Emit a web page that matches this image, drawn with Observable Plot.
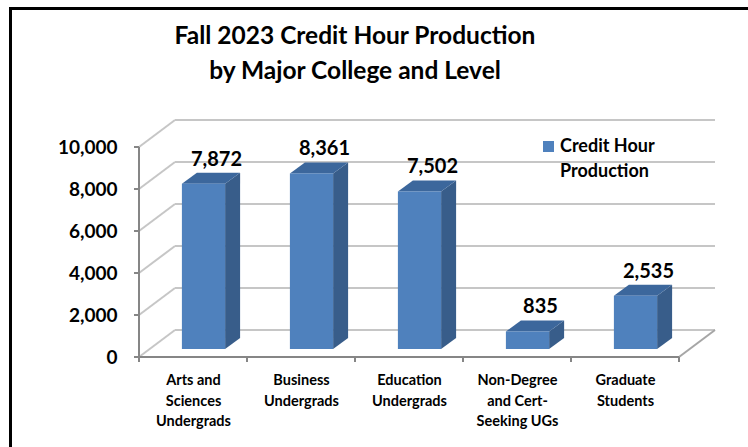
<!DOCTYPE html>
<html>
<head>
<meta charset="utf-8">
<script src="https://cdn.jsdelivr.net/npm/d3@7"></script>
<script src="https://cdn.jsdelivr.net/npm/@observablehq/plot@0.6"></script>
<style>
  html, body { margin: 0; padding: 0; background: #fff; }
  body { width: 748px; height: 447px; position: relative; overflow: hidden; font-family: Lato, "Open Sans", sans-serif; }
  #frame { position: absolute; left: 9px; top: 7px; width: 800px; height: 500px; border-left: 3px solid #000; border-top: 3px solid #000; box-sizing: border-box; }
  #chart { position: absolute; left: 0; top: 0; }
  #title { position: absolute; left: 155px; top: 16.5px; width: 400px; text-align: center; font-weight: bold; font-size: 24.5px; line-height: 35px; color: #000; }
  #legend { position: absolute; left: 543px; top: 133px; font-weight: bold; font-size: 18px; line-height: 25px; color: #000; }
  #legend .sw { position: absolute; left: 0; top: 8px; width: 11px; height: 11px; background: #4f81bd; }
  #legend .tx { position: absolute; left: 17px; top: 0; white-space: nowrap; }
</style>
</head>
<body>
<div id="frame"></div>
<div id="chart"></div>
<div id="title">Fall 2023 Credit Hour Production<br>by Major College and Level</div>
<div id="legend"><div class="sw"></div><div class="tx">Credit Hour<br>Production</div></div>
<script>
const categories = ["Arts and\nSciences\nUndergrads", "Business\nUndergrads", "Education\nUndergrads", "Non-Degree\nand Cert-\nSeeking UGs", "Graduate\nStudents"];
const values = [7872, 8361, 7502, 835, 2535];
const yTicks = [0, 2000, 4000, 6000, 8000, 10000];
const seriesName = "Credit Hour Production";

const data = categories.map((c, i) => ({i, c, v: values[i]}));

const FRONT = "#4f81bd", SIDE = "#385d8a", TOP = "#3c679c";
const GRID = "#c6c6c6", AXIS = "#868686";
const DX = 36, DY = -27;          // depth of the plot box (pixels)
const BDX = 10.5, BDY = -8;       // bar front plane offset
const SDX = 15, SDY = -11;        // bar depth

function walls(index, {x, y}) {
  const g = d3.create("svg:g");
  const xl = x(-0.5), xr = x(categories.length - 0.5);
  for (const t of yTicks) {
    g.append("line").attr("x1", xl + DX).attr("x2", xr + DX).attr("y1", y(t) + DY).attr("y2", y(t) + DY)
      .attr("stroke", GRID).attr("stroke-width", 2);
    g.append("line").attr("x1", xl).attr("x2", xl + DX).attr("y1", y(t)).attr("y2", y(t) + DY)
      .attr("stroke", GRID).attr("stroke-width", 2);
  }
  g.append("line").attr("x1", xr).attr("x2", xr + DX).attr("y1", y(0)).attr("y2", y(0) + DY)
    .attr("stroke", "#a6a6a6").attr("stroke-width", 2);
  g.append("line").attr("x1", xl).attr("x2", xl).attr("y1", y(0)).attr("y2", y(10000))
    .attr("stroke", AXIS).attr("stroke-width", 2);
  g.append("line").attr("x1", xl).attr("x2", xr).attr("y1", y(0)).attr("y2", y(0))
    .attr("stroke", AXIS).attr("stroke-width", 2);
  for (const t of yTicks) {
    g.append("line").attr("x1", xl - 5).attr("x2", xl).attr("y1", y(t)).attr("y2", y(t))
      .attr("stroke", AXIS).attr("stroke-width", 2);
  }
  for (let k = 0; k <= categories.length; k++) {
    const px = x(k - 0.5);
    g.append("line").attr("x1", px).attr("x2", px).attr("y1", y(0)).attr("y2", y(0) + 5)
      .attr("stroke", AXIS).attr("stroke-width", 2);
  }
  return g.node();
}

function barDepth(index, {x, y}) {
  const g = d3.create("svg:g");
  for (const d of data) {
    const x0 = x(d.i - 0.2) + BDX, x1 = x(d.i + 0.2) + BDX;
    const yt = y(d.v) + BDY, yb = y(0) + BDY;
    g.append("polygon")
      .attr("points", [[x1, yt], [x1 + SDX, yt + SDY], [x1 + SDX, yb + SDY], [x1, yb]].join(" "))
      .attr("fill", SIDE);
    g.append("polygon")
      .attr("points", [[x0, yt], [x0 + SDX, yt + SDY], [x1 + SDX, yt + SDY], [x1, yt]].join(" "))
      .attr("fill", TOP);
  }
  return g.node();
}

const plot = Plot.plot({
  width: 748,
  height: 447,
  marginTop: 147,
  marginBottom: 90,
  marginLeft: 139,
  marginRight: 69,
  style: {fontFamily: "Lato, 'Open Sans', sans-serif", background: "transparent", overflow: "visible"},
  x: {type: "linear", domain: [-0.5, categories.length - 0.5], axis: null},
  y: {type: "linear", domain: [0, 10000], axis: null},
  marks: [
    walls,
    barDepth,
    Plot.rectY(data, {x1: d => d.i - 0.2, x2: d => d.i + 0.2, y: "v", dx: BDX, dy: BDY, fill: FRONT, title: d => `${seriesName}: ${d.v}`}),
    Plot.text(yTicks, {y: d => d, frameAnchor: "left", dx: -22, textAnchor: "end", text: d => d3.format(",")(d),
      fontSize: 19, fontWeight: "bold", fill: "#000"}),
    Plot.text(data, {x: "i", y: 0, text: "c", lineAnchor: "top", dy: 13, lineHeight: 1.42,
      fontSize: 14.5, fontWeight: "bold", fill: "#000"}),
    Plot.text(data, {x: "i", y: "v", text: d => d3.format(",")(d.v), dx: 23, dy: -33,
      fontSize: 20, fontWeight: "bold", fill: "#000"})
  ]
});
document.getElementById("chart").append(plot);
</script>
</body>
</html>
